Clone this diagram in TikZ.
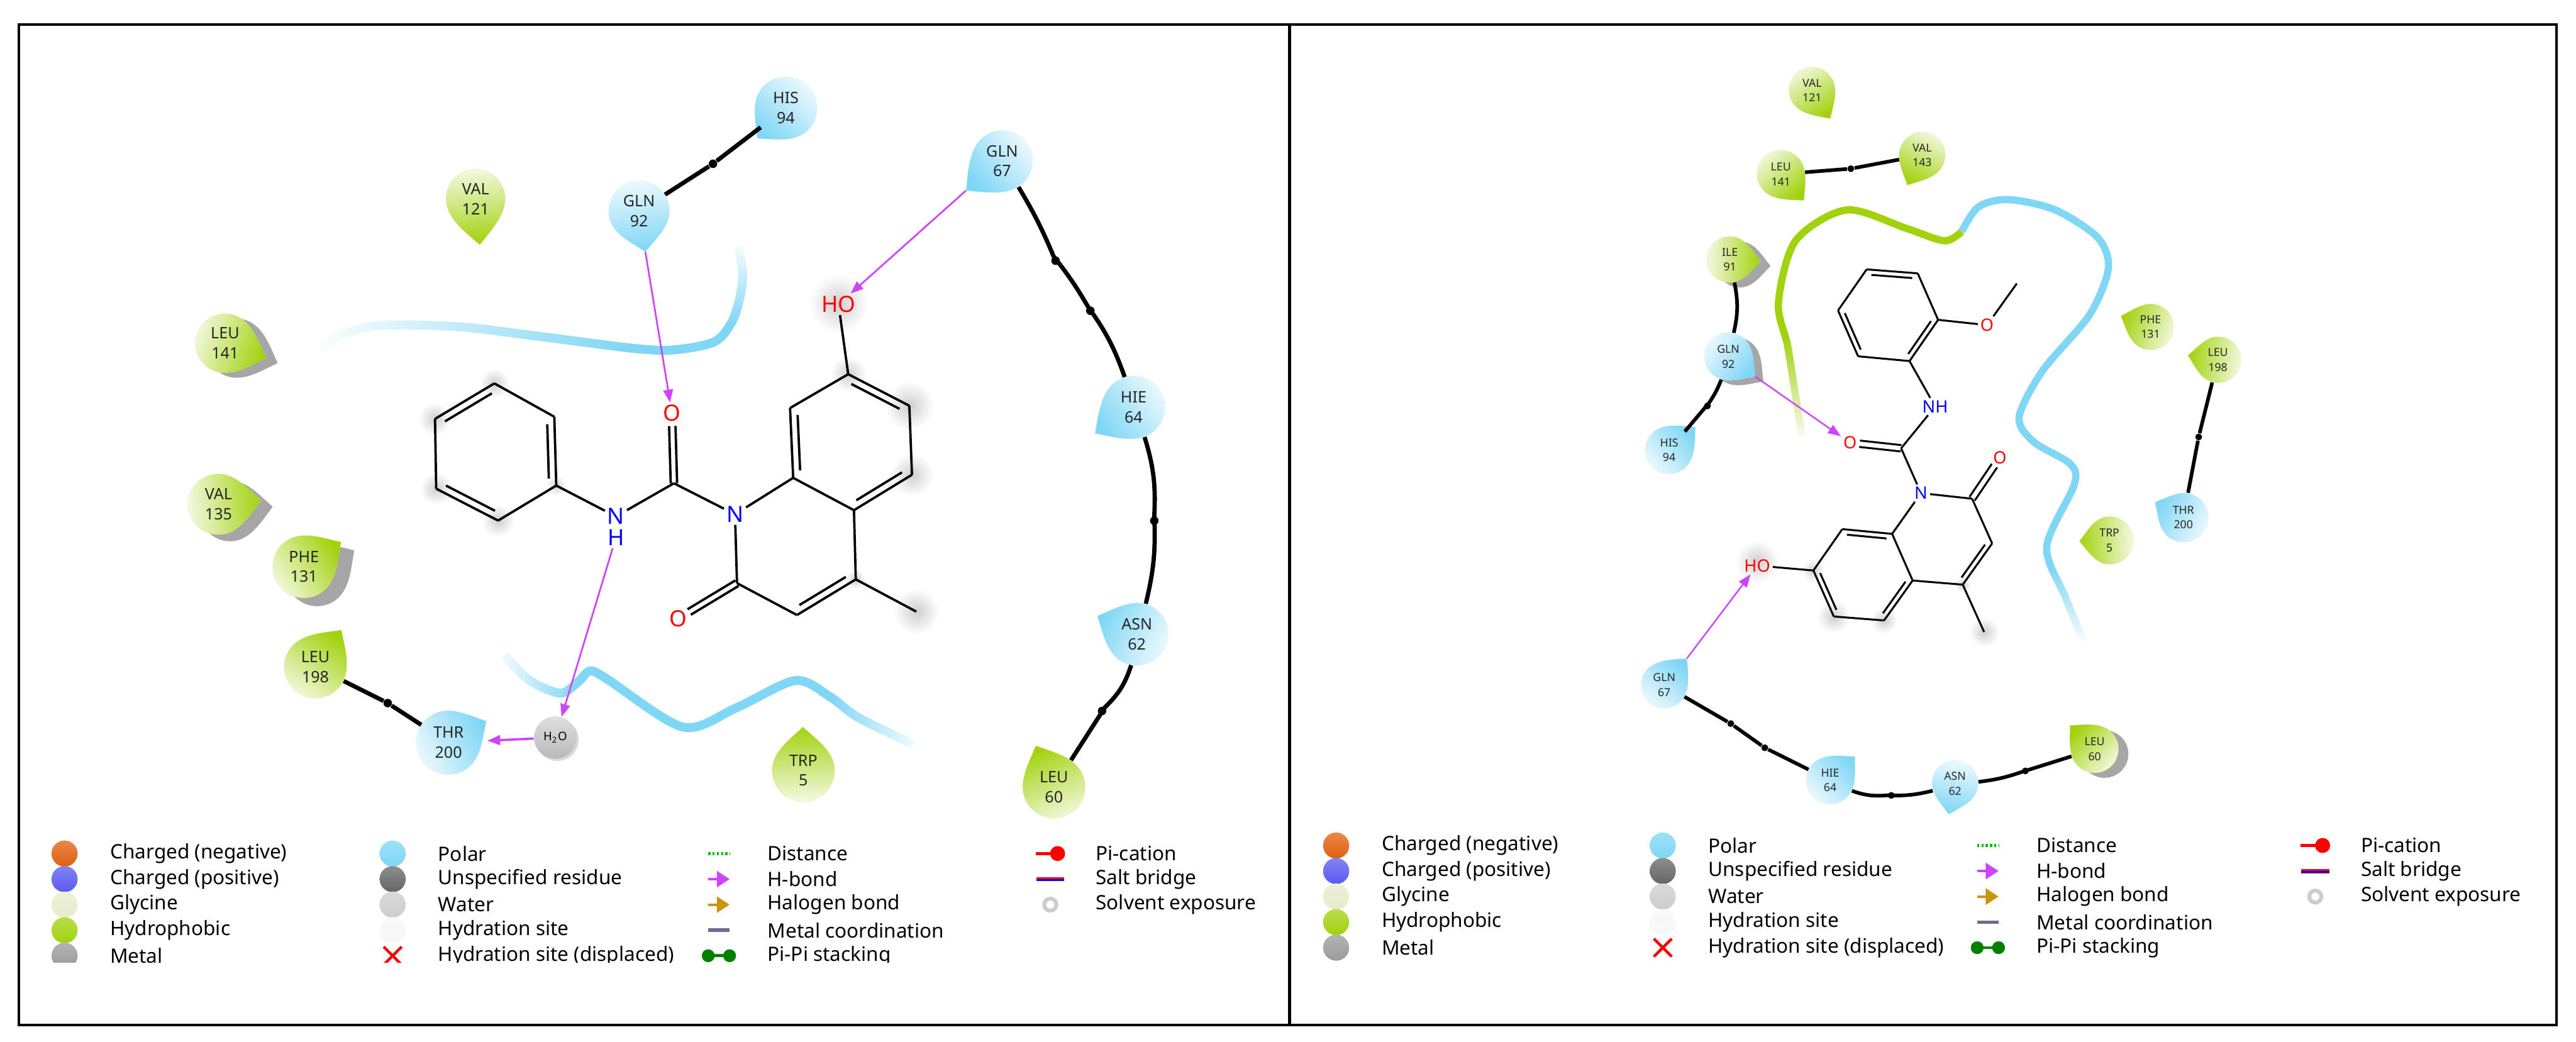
\documentclass[tikz,border=0pt]{standalone}
\usepackage{fontspec}
\setmainfont{Noto Sans}
\usetikzlibrary{arrows.meta,calc,fadings,positioning,shadows,shapes.misc}

\definecolor{polarc}{HTML}{7FD6F5}
\definecolor{hydroc}{HTML}{A2D20E}
\definecolor{hbondc}{HTML}{CC44FF}
\definecolor{halogc}{HTML}{C8960C}
\definecolor{chneg}{HTML}{E0600F}
\definecolor{chpos}{HTML}{5A5AF0}
\definecolor{glyc}{HTML}{E8EBCB}
\definecolor{metalc}{HTML}{9A9A9A}
\definecolor{unspec}{HTML}{666666}
\definecolor{waterc}{HTML}{CDCDCD}
\definecolor{hsite}{HTML}{F7F7F7}
\definecolor{metalk}{HTML}{75688F}

\tikzfading[name=fadeleft,left color=transparent!100,right color=transparent!0]
\tikzfading[name=faderight,left color=transparent!0,right color=transparent!100]
\tikzfading[name=fadeup,top color=transparent!100,bottom color=transparent!0]
\tikzfading[name=fadedown,top color=transparent!0,bottom color=transparent!100]

\tikzset{
	panelframe/.style={line width=1.3pt},
	bondline/.style={line width=1.1pt},
	linkline/.style={line width=2pt},
	knot/.style={circle,fill=black,inner sep=0pt,minimum size=4pt},
	hbond/.style={draw=hbondc,line width=.8pt,-{Triangle[length=6pt,width=4.5pt]}},
	pocket/.style={line width=4.2pt,draw=polarc},
	halo/.style={inner color=gray!38,outer color=white},
	reslabelL/.style={font=\fontsize{7.4}{9.4}\selectfont},
	reslabelR/.style={font=\fontsize{5.2}{7}\selectfont},
	atom/.style={inner sep=1pt,font=\fontsize{10.5}{11}\selectfont},
	smallatom/.style={inner sep=1pt,font=\fontsize{8}{9}\selectfont},
	legball/.style={circle,inner sep=0pt,minimum size=.43cm,top color=#1!75!white,middle color=#1!35!white,bottom color=#1},
	legtext/.style={anchor=west,inner sep=0pt,font=\fontsize{9.3}{11}\selectfont},
	legdist/.style={draw=green!75!black,line width=1.4pt,dash pattern=on 1pt off 1pt},
	leghb/.style={draw=hbondc,line width=1.2pt,-{Triangle[length=6pt,width=7.5pt]}},
	leghal/.style={draw=halogc,line width=1.2pt,-{Triangle[length=6pt,width=7.5pt]}},
	legmetal/.style={draw=metalk,line width=1.6pt},
	legpipi/.style={draw=green!50!black,line width=1.4pt,shorten <=-3pt,shorten >=-3pt,{Circle[length=6pt]}-{Circle[length=6pt]}},
}

% shadow, name, centre x, y, radius, tip x, y, colour, text
\newcommand{\residue}[9][]{%
	\pgfmathsetmacro\tang{atan2(#4-#7,#6-#3)}
	\pgfmathsetmacro\tlen{veclen(#6-#3,#7-#4)}
	\pgfmathsetmacro\sang{\tang-90}
	\def\resshadow{#1}
	\ifx\resshadow\empty\else
		\fill[gray!70,shift={(#3,#4)},shift={(#1)},rotate=\tang] (\tlen,0)
			.. controls ({.7*\tlen},{.45*#5}) and ({.6*#5},#5) .. (0,#5) arc (90:270:#5)
			.. controls ({.6*#5},{-#5}) and ({.7*\tlen},{-.45*#5}) .. cycle;
	\fi
	\path[shift={(#3,#4)},rotate=\tang,top color=#8,bottom color=#8!12!white,shading angle=\sang,
		draw=#8!60!white,densely dotted,line width=.3pt] (\tlen,0)
		.. controls ({.7*\tlen},{.45*#5}) and ({.6*#5},#5) .. (0,#5) arc (90:270:#5)
		.. controls ({.6*#5},{-#5}) and ({.7*\tlen},{-.45*#5}) .. cycle;
	\coordinate (#2tip) at (#6,#7);
	\node[circle,inner sep=0pt,align=center,text=black!85,minimum size={2*#5*0.02707cm},reslabel] (#2) at (#3,#4) {#9};
}

% ring double bond, the second line on side #3
\newcommand{\dbond}[3]{%
	\draw[bondline] (#1) -- (#2);
	\draw[bondline,shorten <=\dgap,shorten >=\dgap] ($(#1)!\dgap!#3:(#2)$) -- ($(#2)!\dgap!-#3:(#1)$);
}
% carbonyl, two lines round the axis
\newcommand{\cobond}[2]{%
	\draw[bondline,shorten >=\cogap] ($(#1)!1.5pt!90:(#2)$) -- ($(#2)!1.5pt!-90:(#1)$);
	\draw[bondline,shorten >=\cogap] ($(#1)!1.5pt!-90:(#2)$) -- ($(#2)!1.5pt!90:(#1)$);
}

% prefix, first row y, x of the four columns
\newcommand{\legendtable}[6]{%
	\foreach \colr/\txt [count=\row from 0] in {chneg/Charged (negative),chpos/Charged (positive),glyc/Glycine,hydroc/Hydrophobic,metalc/Metal}{
		\pgfmathsetmacro\yy{#2+15.55*\row}
		\node[legball=\colr] (#1a\row) at (#3,\yy) {};
		\node[legtext] (#1at\row) at ($(#3,\yy)+(27.5,0)$) {\txt};
	}
	\foreach \colr/\txt [count=\row from 0] in {polarc/Polar,unspec/Unspecified residue,waterc/Water,hsite/Hydration site}{
		\pgfmathsetmacro\yy{#2+15.55*\row}
		\node[legball=\colr] (#1b\row) at (#4,\yy) {};
		\node[legtext] (#1bt\row) at ($(#4,\yy)+(27.5,0)$) {\txt};
	}
	\pgfmathsetmacro\yy{#2+15.55*4}
	\node[cross out,draw=red,line width=1.3pt,inner sep=0pt,minimum size=.25cm] (#1b4) at (#4,\yy) {};
	\node[legtext] (#1bt4) at ($(#4,\yy)+(27.5,0)$) {Hydration site (displaced)};
	\foreach \sty/\txt [count=\row from 0] in {legdist/Distance,leghb/H-bond,leghal/Halogen bond,legmetal/Metal coordination,legpipi/Pi-Pi stacking}{
		\pgfmathsetmacro\yy{#2+15.55*\row}
		\coordinate (#1cl\row) at ($(#5,\yy)+(-6.5,0)$);
		\coordinate (#1cr\row) at ($(#5,\yy)+(6.5,0)$);
		\draw[style=\sty] (#1cl\row) -- (#1cr\row);
		\node[legtext] (#1ct\row) at ($(#5,\yy)+(29.4,0)$) {\txt};
	}
	\pgfmathsetmacro\yy{#2}
	\coordinate (#1dl0) at ($(#6,\yy)+(-9,0)$);
	\coordinate (#1dr0) at ($(#6,\yy)+(9,0)$);
	\draw[red,line width=1.4pt,-{Circle[length=7pt]}] (#1dl0) -- (#1dr0);
	\node[legtext] (#1dt0) at ($(#6,\yy)+(27.5,0)$) {Pi-cation};
	\pgfmathsetmacro\yy{#2+15.55}
	\coordinate (#1dl1) at ($(#6,\yy)+(-8.5,0)$);
	\coordinate (#1dr1) at ($(#6,\yy)+(8.5,0)$);
	\draw[red,line width=2pt] (#1dl1) -- (#1dr1);
	\draw[blue,line width=1pt,transform canvas={yshift=-.4pt}] (#1dl1) -- (#1dr1);
	\node[legtext] (#1dt1) at ($(#6,\yy)+(27.5,0)$) {Salt bridge};
	\pgfmathsetmacro\yy{#2+31.1}
	\node[circle,draw=gray!40,line width=1.8pt,minimum size=.2cm,inner sep=0pt] (#1d2) at (#6,\yy) {};
	\node[legtext] (#1dt2) at ($(#6,\yy)+(27.5,0)$) {Solvent exposure};
}

\begin{document}
\begin{tikzpicture}[x=0.02707cm,y=-0.02707cm]
	\useasboundingbox (0,0) rectangle (1568,634);
	\coordinate (FA) at (11.5,15);
	\coordinate (FB) at (1556,624);
	\coordinate (FC) at (785,15);
	\coordinate (FD) at (785,624);
	\draw[panelframe] (FA) rectangle (FB);
	\draw[panelframe] (FC) -- (FD);

	% left panel
	\begin{scope}[reslabel/.style=reslabelL]
		\draw[pocket] plot[smooth] coordinates {(195,212) (210,203) (233,198) (280,199) (330,205) (385,212) (410,213) (435,208) (446,195) (451,178) (452,165) (449.5,150)};
		\draw[pocket] plot[smooth] coordinates {(307,399) (322,414) (341,422) (352,415) (359,408.5) (369,413) (415.6,442.6) (448,431) (484,414.3) (505,424) (522.8,437) (556,453)};
		\fill[white,path fading=faderight] (188,185) rectangle (385,225);
		\fill[white,path fading=fadedown] (435,146) rectangle (465,198);
		\fill[white,path fading=faderight] (300,392) rectangle (352,430);
		\fill[white,path fading=fadeleft] (505,412) rectangle (562,462);

		\coordinate (p1) at (300.9,233.4);
		\coordinate (p2) at (337.4,253.7);
		\coordinate (p3) at (338.6,295.6);
		\coordinate (p4) at (303.2,316.9);
		\coordinate (p5) at (265.5,297.5);
		\coordinate (p6) at (264.8,255);
		\coordinate (lC) at (410.2,294.2);
		\coordinate (q8a) at (482.8,290.9);
		\coordinate (q4a) at (519.8,310.6);
		\coordinate (q4) at (520.9,352.7);
		\coordinate (q3) at (485.1,374.4);
		\coordinate (q2) at (448.6,355);
		\coordinate (qMe) at (557.7,372.3);
		\coordinate (q8) at (480.9,248.4);
		\coordinate (q7) at (516.3,227.8);
		\coordinate (q6) at (553.5,247);
		\coordinate (q5) at (555.1,289);
		\foreach \p/\s in {p1/9,p3/6,p4/10,p5/10,p6/10,q7/11,q6/15,q5/13,qMe/14,q4/6}
			\shade[halo] (\p) circle (\s);
		\shade[halo] (510.4,185) circle (18);

		\node[atom,text=blue] (lN) at (374.9,314.4) {N};
		\node[atom,text=blue,below=0pt of lN] (lH) {H};
		\node[atom,text=blue] (lN1) at (447.4,313.1) {N};
		\node[atom,text=red] (lO1) at (409,251.6) {O};
		\node[atom,text=red] (lO2) at (412.8,376.6) {O};
		\node[atom,text=red] (lHO) at (510.4,185.3) {HO};

		\def\dgap{3.4pt}
		\def\cogap{6pt}
		\draw[bondline] (p1) -- (p2) (p3) -- (p4) (p5) -- (p6);
		\dbond{p2}{p3}{-90}
		\dbond{p4}{p5}{-90}
		\dbond{p6}{p1}{-90}
		\draw[bondline] (p3) -- (lN);
		\draw[bondline] (lN) -- (lC);
		\draw[bondline] (lC) -- (lN1);
		\cobond{lC}{lO1}
		\draw[bondline] (lN1) -- (q8a);
		\draw[bondline] (q8a) -- (q4a);
		\draw[bondline] (q4a) -- (q4);
		\dbond{q4}{q3}{-90}
		\draw[bondline] (q3) -- (q2);
		\draw[bondline] (q2) -- (lN1);
		\cobond{q2}{lO2}
		\draw[bondline] (q4) -- (qMe);
		\dbond{q8a}{q8}{-90}
		\draw[bondline] (q8) -- (q7);
		\dbond{q7}{q6}{-90}
		\draw[bondline] (q6) -- (q5);
		\dbond{q5}{q4a}{-90}
		\draw[bondline] (q7) -- (lHO);

		\residue{lhis94}{478.3}{65.8}{19}{461}{84.3}{polarc}{HIS\\94}
		\residue{lgln92}{389}{128.6}{18.5}{392.8}{153.2}{polarc}{GLN\\92}
		\residue{lval121}{289.5}{121}{18}{292}{149}{hydroc}{VAL\\121}
		\residue{lgln67}{610}{98}{18.5}{588}{116}{polarc}{GLN\\67}
		\residue[7,3]{lleu141}{137}{209}{18}{162}{218}{hydroc}{LEU\\141}
		\residue[7,4]{lval135}{133}{307}{18.5}{159}{304.5}{hydroc}{VAL\\135}
		\residue[8,5]{lphe131}{185}{345}{19}{207.6}{330}{hydroc}{PHE\\131}
		\residue{lleu198}{192}{406}{19}{207.8}{383.5}{hydroc}{LEU\\198}
		\residue{lthr200}{273}{452}{19.5}{296}{439}{polarc}{THR\\200}
		\residue{ltrp5}{489}{469}{19}{488.7}{442.6}{hydroc}{TRP\\5}
		\residue{lhie64}{690}{248}{19}{666.5}{263.8}{polarc}{HIE\\64}
		\residue{lasn62}{692}{386}{19}{668}{375}{polarc}{ASN\\62}
		\residue{lleu60}{641.5}{479}{19}{630.5}{454}{hydroc}{LEU\\60}
		\node[circle,inner sep=0pt,minimum size=.7cm,top color=gray!25,middle color=white,bottom color=gray!55,font=\fontsize{5.5}{6}\selectfont,
			drop shadow={shadow xshift=1pt,shadow yshift=-1pt,fill=gray!50,opacity=.6}] (lwater) at (338,449) {H\textsubscript{2}O};

		\node[knot] (lk1) at (434,99.7) {};
		\node[knot] (lk2) at (236,428) {};
		\node[knot] (lk3) at (642.5,158.7) {};
		\node[knot] (lk4) at (663.7,189.2) {};
		\node[knot] (lk5) at (702.6,317) {};
		\node[knot] (lk6) at (670.8,432.8) {};
		\draw[linkline] (lgln92) -- (lk1) -- (lhis94);
		\draw[linkline] (lleu198) -- (lk2) -- (lthr200);
		\draw[linkline] (lgln67) to[bend left=4] (lk3) to[bend left=4] (lk4) to[bend left=8] (lhie64);
		\draw[linkline] (lhie64) to[bend left=10] (lk5) to[bend left=8] (lasn62);
		\draw[linkline] (lasn62) to[bend left=14] (lk6) -- (lleu60);

		\draw[hbond] (lgln92tip) -- (lO1);
		\draw[hbond] (lgln67tip) -- (lHO);
		\draw[hbond] (lH) -- (lwater);
		\draw[hbond,line width=1.1pt,shorten >=3pt] (lwater) -- (lthr200);

		\begin{scope}
			\clip (0,0) rectangle (785,586);
			\legendtable{ll}{519.6}{39.3}{239}{437.6}{639.3}
		\end{scope}
	\end{scope}

	% right panel
	\begin{scope}[reslabel/.style=reslabelR,atom/.style=smallatom,bondline/.style={line width=.9pt},
		linkline/.style={line width=1.7pt},knot/.style={circle,fill=black,inner sep=0pt,minimum size=3.2pt},
		pocket/.style={line width=3.4pt,draw=polarc},halo/.style={inner color=gray!38,outer color=white}]
		\draw[pocket,draw=hydroc] plot[smooth] coordinates {(1096.8,265.4) (1092,235) (1088,210) (1082.5,184.3) (1092.9,146.6) (1124,127.8) (1160.3,139) (1183.6,146.6) (1194,141)};
		\draw[pocket] plot[smooth] coordinates {(1194,141) (1204.3,125.9) (1222.5,121.5) (1251,127.8) (1276.9,144.7) (1283.3,163.6) (1271.7,191.9) (1243.2,225.8) (1229,254) (1238,269.1) (1260,282.3) (1262.6,295) (1245.8,332.8) (1257.4,364.1) (1268,390)};
		\fill[white,path fading=fadeup] (1078,205) rectangle (1112,270);
		\fill[white,path fading=fadeup] (1236,345) rectangle (1282,393);

		\coordinate (a1) at (1136.2,164);
		\coordinate (a2) at (1167.3,166.4);
		\coordinate (a3) at (1179.7,194.7);
		\coordinate (a4) at (1162.3,219.8);
		\coordinate (a5) at (1131,216.9);
		\coordinate (a6) at (1118.8,189);
		\coordinate (aMe) at (1227.6,172.6);
		\coordinate (rC) at (1157.2,272.9);
		\coordinate (b2) at (1200.4,303.6);
		\coordinate (b3) at (1212.6,330.8);
		\coordinate (b4) at (1194.7,355.9);
		\coordinate (bMe) at (1207.7,384.7);
		\coordinate (b4a) at (1164.2,353.4);
		\coordinate (b8a) at (1151.7,325);
		\coordinate (b8) at (1121.4,322.1);
		\coordinate (b7) at (1103.8,347.3);
		\coordinate (b6) at (1116.2,375.3);
		\coordinate (b5) at (1146.8,377.7);
		\foreach \p/\s in {b7/7,b6/10,b5/8,bMe/9,b4/5}
			\shade[halo] (\p) circle (\s);
		\shade[halo] (1069.6,342) circle (13);

		\node[atom,text=red] (rOm) at (1209.5,197.9) {O};
		\node[atom,text=blue] (rNH) at (1177.9,247.5) {NH};
		\node[atom,text=red] (rO1) at (1126.1,269.5) {O};
		\node[atom,text=blue] (rN1) at (1169.3,300.2) {N};
		\node[atom,text=red] (rO2) at (1217.3,278.6) {O};
		\node[atom,text=red] (rHO) at (1069.6,344.3) {HO};

		\def\dgap{2.4pt}
		\def\cogap{4.5pt}
		\dbond{a1}{a2}{-90}
		\draw[bondline] (a2) -- (a3);
		\dbond{a3}{a4}{-90}
		\draw[bondline] (a4) -- (a5);
		\dbond{a5}{a6}{-90}
		\draw[bondline] (a6) -- (a1);
		\draw[bondline] (a3) -- (rOm);
		\draw[bondline] (rOm) -- (aMe);
		\draw[bondline] (a4) -- (rNH);
		\draw[bondline] (rNH) -- (rC);
		\cobond{rC}{rO1}
		\draw[bondline] (rC) -- (rN1);
		\draw[bondline] (rN1) -- (b2);
		\cobond{b2}{rO2}
		\draw[bondline] (b2) -- (b3);
		\dbond{b3}{b4}{-90}
		\draw[bondline] (b4) -- (bMe);
		\draw[bondline] (b4) -- (b4a);
		\draw[bondline] (b4a) -- (b8a);
		\draw[bondline] (b8a) -- (rN1);
		\dbond{b8}{b8a}{-90}
		\dbond{b4a}{b5}{-90}
		\draw[bondline] (b5) -- (b6);
		\dbond{b6}{b7}{-90}
		\draw[bondline] (b7) -- (b8);
		\draw[bondline] (b7) -- (rHO);

		\residue{rval121}{1103}{55}{14}{1114}{72.2}{hydroc}{VAL\\121}
		\residue{rval143}{1170}{94.5}{14}{1161}{112.7}{hydroc}{VAL\\143}
		\residue{rleu141}{1084}{106}{14.5}{1098}{122}{hydroc}{LEU\\141}
		\residue[6,3]{rile91}{1053}{158}{14}{1071.7}{158.9}{hydroc}{ILE\\91}
		\residue[5,3]{rgln92}{1052}{217}{14.5}{1068.3}{229.2}{polarc}{GLN\\92}
		\residue{rhis94}{1016}{274}{14.5}{1032}{260}{polarc}{HIS\\94}
		\residue{rphe131}{1309}{199}{14}{1291}{192.4}{hydroc}{PHE\\131}
		\residue{rleu198}{1350}{219}{14}{1331.8}{216.4}{hydroc}{LEU\\198}
		\residue{rthr200}{1329}{315}{15}{1311.8}{305.6}{polarc}{THR\\200}
		\residue{rtrp5}{1284}{329}{14.5}{1265.7}{329.5}{hydroc}{TRP\\5}
		\residue{rgln67}{1013}{417}{14}{1026.8}{400.8}{polarc}{GLN\\67}
		\residue{rhie64}{1114}{475}{14.5}{1129}{460.6}{polarc}{HIE\\64}
		\residue{rasn62}{1190}{477}{14}{1186.2}{495.7}{polarc}{ASN\\62}
		\residue[6,3]{rleu60}{1275}{456}{14.5}{1260}{441.6}{hydroc}{LEU\\60}

		\node[knot] (rk1) at (1126.6,102.7) {};
		\node[knot] (rk2) at (1039.3,247.1) {};
		\node[knot] (rk3) at (1338.3,266) {};
		\node[knot] (rk4) at (1053.5,440.5) {};
		\node[knot] (rk5) at (1074.2,455.2) {};
		\node[knot] (rk6) at (1151.2,484.2) {};
		\node[knot] (rk7) at (1232.8,469.3) {};
		\draw[linkline] (rleu141) -- (rk1) -- (rval143);
		\draw[linkline] (rile91) to[bend left=12] (rgln92);
		\draw[linkline] (rgln92) to[bend left=6] (rk2) -- (rhis94);
		\draw[linkline] (rleu198) -- (rk3) -- (rthr200);
		\draw[linkline] (rgln67) -- (rk4) -- (rk5) -- (rhie64);
		\draw[linkline] (rhie64) to[bend right=12] (rk6) to[bend right=8] (rasn62);
		\draw[linkline] (rasn62) to[bend right=6] (rk7) -- (rleu60);

		\draw[hbond,line width=.7pt] (rgln92tip) -- (rO1);
		\draw[hbond,line width=.7pt] (rgln67tip) -- (rHO);

		\legendtable{rl}{514.7}{813.3}{1012.1}{1210}{1409.3}
	\end{scope}
\end{tikzpicture}
\end{document}
